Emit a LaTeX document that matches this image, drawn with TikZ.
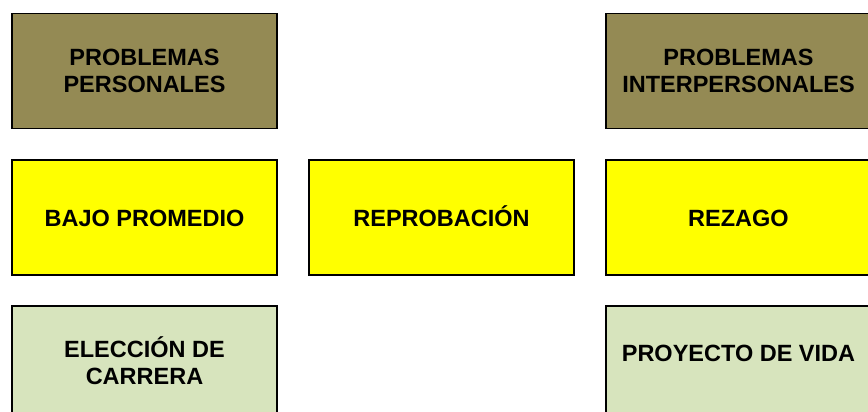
\documentclass[tikz,border=0pt]{standalone}
\usepackage{fontspec}
\setmainfont{Liberation Sans}
\usepackage{tikz}
\usetikzlibrary{shapes,arrows}
\definecolor{olivebox}{HTML}{948A54}
\definecolor{yellowbox}{HTML}{FFFF00}
\definecolor{greenbox}{HTML}{D7E4BD}
\tikzstyle{block} = [draw, line width=1.5pt, rectangle, align=center, minimum width=265pt, minimum height=115pt, font=\fontsize{23.5}{27}\selectfont\bfseries]
\tikzstyle{problema} = [block, fill=olivebox]
\tikzstyle{efecto} = [block, fill=yellowbox, text height=17pt, text depth=0pt]
\tikzstyle{causa} = [block, fill=greenbox]

\begin{document}
\begin{tikzpicture}[x=1pt, y=1pt, node distance=297pt]
    \useasboundingbox (0,0) rectangle (868,-412);
    \clip (0,0) rectangle (868,-412);
    \node [efecto] at (144.5,-217.5) (bajo) {BAJO PROMEDIO};
    \node [efecto, right of=bajo] (reprobacion) {REPROBACIÓN};
    \node [efecto, right of=reprobacion] (rezago) {REZAGO};

    \node [problema, above of=bajo, node distance=146.5pt] (personales) {PROBLEMAS\\PERSONALES};
    \node [problema, above of=rezago, node distance=146.5pt] (interpersonales) {PROBLEMAS\\INTERPERSONALES};

    \node [causa, below of=bajo, node distance=146pt, text depth=5pt] (eleccion) {ELECCIÓN DE\\CARRERA};
    \node [causa, below of=rezago, node distance=146pt, text depth=21pt] (proyecto) {PROYECTO DE VIDA}; % text sits high in the box
\end{tikzpicture}
\end{document}
